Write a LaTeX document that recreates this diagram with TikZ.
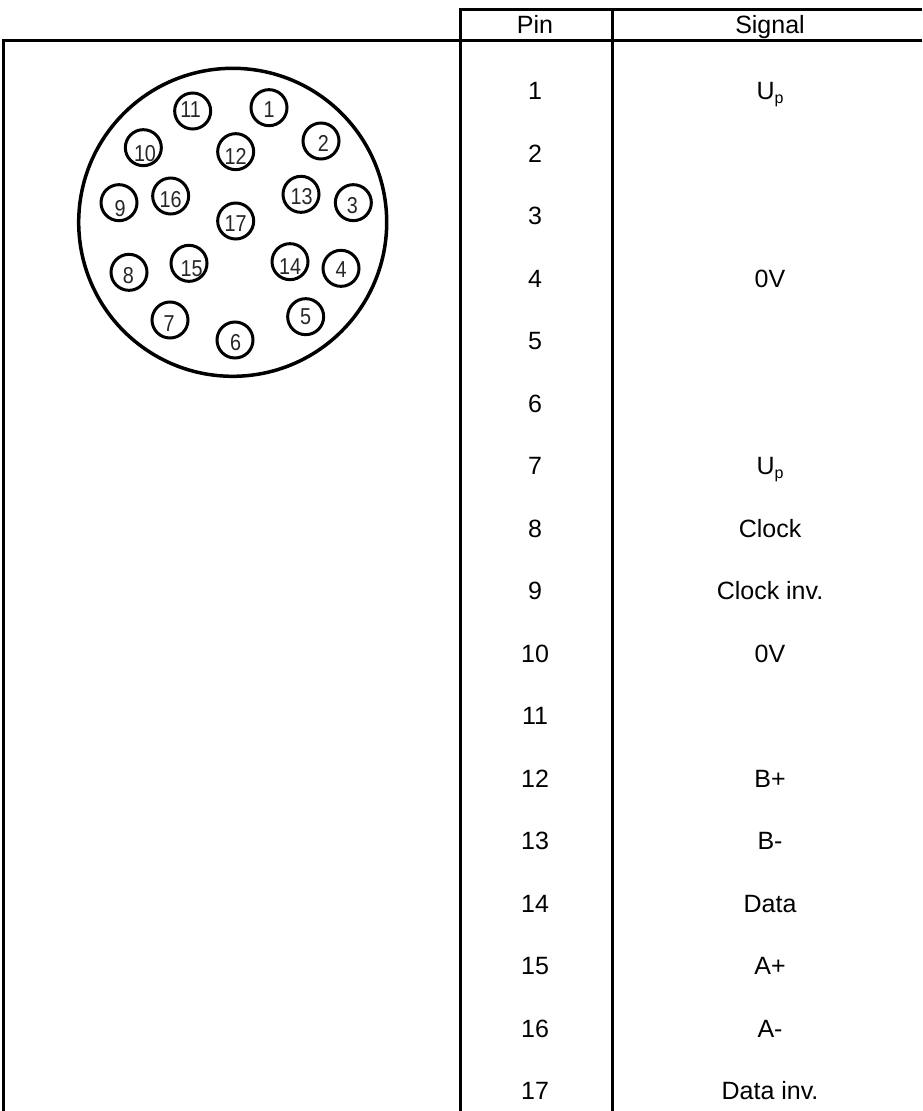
\documentclass[tikz,border=0pt]{standalone}
\usepackage{fontspec}
\setmainfont{Liberation Sans}
\newcommand{\Upsig}{U\raisebox{-4pt}{\fontsize{16}{18}\selectfont p}}
\tikzset{
  rule/.style={line width=3pt,black},
  cell/.style={inner sep=0pt,anchor=base,font=\fontsize{25}{28}\selectfont,text=black},
  pinhole/.style={circle,draw=black,line width=3pt,minimum size=36pt,inner sep=0pt},
  pinnum/.style={inner sep=0pt,font=\fontsize{23}{26}\selectfont,text=black!85},
}
\begin{document}
\begin{tikzpicture}[x=1pt,y=-1pt]
\useasboundingbox (0,0) rectangle (922,1111);
\coordinate (tl) at (460,9); \coordinate (tm) at (612,9); \coordinate (tr) at (922,9);
\coordinate (hl) at (3.5,40); \coordinate (hr) at (922,40);
\coordinate (bl) at (3.5,1111); \coordinate (bp) at (460,1111); \coordinate (bm) at (612,1111);
\draw[rule] (tr) -- (tl) -- (bp);
\draw[rule] (tm) -- (bm);
\draw[rule] (bl) -- (hl) -- (hr);
\node[cell] (hpin) at (535,33) {Pin};
\node[cell] (hsig) at (770,33) {Signal};
\foreach \n in {1,...,17} {
  \node[cell] (p\n) at (535,{99.5+62.5*(\n-1)}) {\n};
}
\foreach \n/\t in {1/\Upsig,4/0V,7/\Upsig,8/Clock,9/Clock inv.,10/0V,12/B+,13/B-,14/Data,15/A+,16/A-,17/Data inv.} {
  \node[cell] (s\n) at (770,{99.5+62.5*(\n-1)}) {\t};
}
\node[circle,draw=black,line width=3.5pt,minimum size=308pt,inner sep=0pt] (body) at (232.7,222.3) {};
\foreach \n/\x/\y/\tx/\ty in {1/627/173/627/180,2/783/273/790/280,3/880/458/877/468,4/843/655/843/660,5/737/800/737/800,6/525/870/527/878,7/330/810/327/820,8/207/667/205/678,9/177/458/180/475,10/250/293/255/310,11/398/183/392/180,12/527/305/527/320,13/723/433/725/440,14/690/635/690/650,15/387/640/395/655,16/332/438/332/450,17/527/513/527/520} {
  \node[pinhole] (h\n) at ({60+\x/3},{50+\y/3}) {};
  \node[pinnum] (t\n) at ({60+\tx/3},{50+\ty/3}) {\scalebox{.86}[1]{\n}};
}
\end{tikzpicture}
\end{document}
